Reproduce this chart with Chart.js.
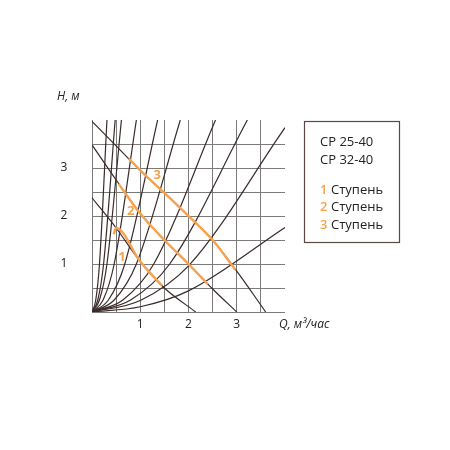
<!DOCTYPE html><html><head><meta charset="utf-8">
<script src="https://cdn.jsdelivr.net/npm/chart.js@4"></script>
<style>body{margin:0;background:#fff}#w{width:450px;height:450px;position:relative}</style></head><body><div id="w"><canvas id="c"></canvas></div>
<script>
const tickLabels=[1,2,3];
const pumpA=[[0,2.38],[0.5,1.75],[1,1.05],[1.5,0.5],[2.15,0]];
const pumpB=[[0,3.48],[0.5,2.75],[1,2.05],[1.5,1.5],[2,1.0],[2.5,0.48],[3,0]];
const pumpC=[[0,3.97],[0.5,3.46],[1,2.95],[1.5,2.48],[2,2.0],[2.5,1.5],[3,0.85],[3.6,0]];
const step1=[[0.45,1.62],[0.5,1.75],[1,1.05],[1.45,0.55]];
const step2=[[0.55,2.67],[1,2.05],[1.5,1.5],[2,1.0],[2.4,0.58]];
const step3=[[0.76,3.2],[1,2.95],[1.5,2.48],[2,2.0],[2.5,1.5],[2.97,0.88]];
const sysCurves=[
[[0,0],[0.078,0.25],[0.155,1],[0.31,4]],
[[0,0],[0.12,0.25],[0.24,1],[0.48,4]],
[[0,0],[0.155,0.25],[0.31,1],[0.61,4]],
[[0,0],[0.23,0.25],[0.46,1],[0.92,4]],
[[0,0],[0.34,0.25],[0.68,1],[1.36,4]],
[[0,0],[0.46,0.25],[0.92,1],[1.83,4]],
[[0,0],[0.64,0.25],[1.28,1],[2.56,4]],
[[0,0],[0.8,0.25],[1.61,1],[3.22,4]],
[[0,0],[1,0.24],[2,0.96],[4,3.84]],
[[0,0],[1,0.11],[2,0.44],[4,1.76]]];
const stepLabels=[{t:'1',x:0.62,y:1.15},{t:'2',x:0.8,y:2.1},{t:'3',x:1.35,y:2.85}];
const legendTitles=['CP 25-40','CP 32-40'];
const legendSteps=['1','2','3'];
const ORANGE='#f7a24e',DARK='#3b2b2b';
const pts=a=>a.map(p=>({x:p[0],y:p[1]}));
const ds=[];
[step1,step2,step3].forEach(c=>ds.push({data:pts(c),borderColor:ORANGE,borderWidth:2.4,cubicInterpolationMode:'monotone'}));
[pumpA,pumpB,pumpC].forEach(c=>ds.push({data:pts(c),borderColor:DARK,borderWidth:1.2,cubicInterpolationMode:'monotone'}));
sysCurves.forEach(c=>ds.push({data:pts(c),borderColor:DARK,borderWidth:1.2,cubicInterpolationMode:'monotone'}));
const deco={id:'deco',afterDraw(ch){const g=ch.ctx,x=ch.scales.x,y=ch.scales.y;g.save();
g.fillStyle='#222';g.font='12px "Open Sans"';g.textAlign='center';g.textBaseline='middle';
tickLabels.forEach(v=>{g.fillText(v,x.getPixelForValue(v),325);g.fillText(v,64,y.getPixelForValue(v));});
g.font='italic 12px "Open Sans"';g.textAlign='left';g.fillText('H, м',57,97);g.fillText('Q, м³/час',279,325);
g.font='bold 13px "Open Sans"';g.fillStyle=ORANGE;g.textAlign='center';
stepLabels.forEach(s=>g.fillText(s.t,x.getPixelForValue(s.x),y.getPixelForValue(s.y)));
g.strokeStyle='#5a4844';g.lineWidth=1.2;g.strokeRect(304.5,121.5,95,121);
g.textAlign='left';g.font='13px "Open Sans"';g.fillStyle='#222';
legendTitles.forEach((t,i)=>g.fillText(t,320,142+i*18));
legendSteps.forEach((t,i)=>{const yy=190+i*17.5;g.fillStyle=ORANGE;g.font='600 13px "Open Sans"';g.fillText(t,320,yy);g.fillStyle='#222';g.font='13px "Open Sans"';g.fillText('Ступень',331,yy);});
g.restore();}};
const gc=c=>c.tick.value===4?'rgba(0,0,0,0)':'#7a7a7a';
new Chart(document.getElementById('c'),{type:'line',data:{datasets:ds},plugins:[deco],
options:{responsive:true,maintainAspectRatio:false,animation:false,
layout:{padding:{left:92,right:165,top:120,bottom:138}},
elements:{point:{radius:0}},
plugins:{legend:{display:false},tooltip:{enabled:false}},
scales:{x:{type:'linear',min:0,max:4,ticks:{display:false,stepSize:0.5},border:{display:false},grid:{color:gc,lineWidth:1,drawTicks:false},afterFit(s){s.height=0;}},
y:{type:'linear',min:0,max:4,ticks:{display:false,stepSize:0.5},border:{display:false},grid:{color:gc,lineWidth:1,drawTicks:false},afterFit(s){s.width=0;}}}}});
</script></body></html>
